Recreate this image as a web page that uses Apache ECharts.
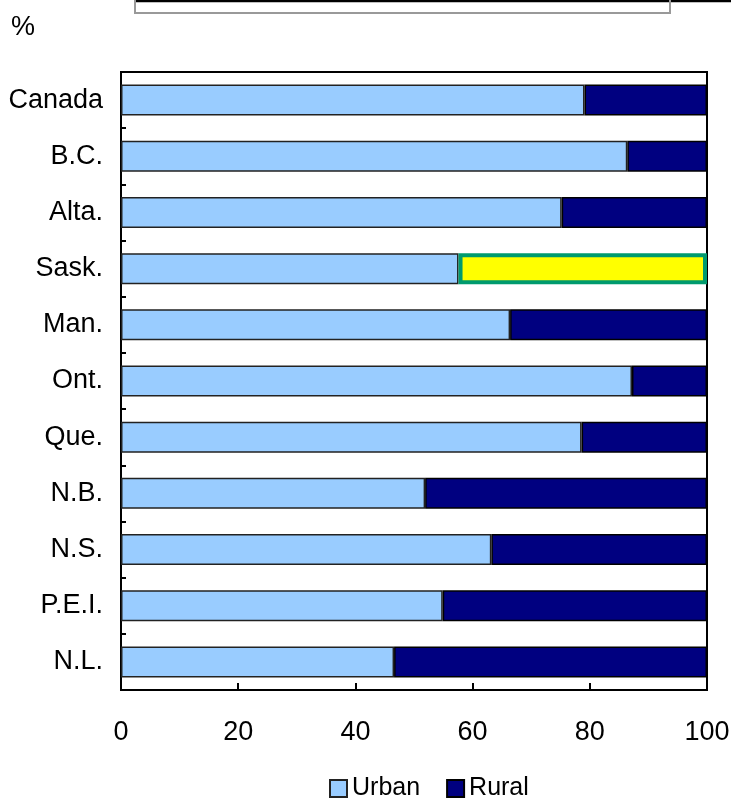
<!DOCTYPE html>
<html>
<head>
<meta charset="utf-8">
<script src="https://cdn.jsdelivr.net/npm/echarts@6/dist/echarts.min.js"></script>
<style>
  html, body { margin: 0; padding: 0; background: #fff; }
  #chart-container { width: 731px; height: 801px; }
</style>
</head>
<body>
<div id="chart-container"></div>
<script>
// Provinces, top to bottom as drawn
const regions = ['Canada', 'B.C.', 'Alta.', 'Sask.', 'Man.', 'Ont.', 'Que.', 'N.B.', 'N.S.', 'P.E.I.', 'N.L.'];
// Share of population (%)
const urban = [79.1, 86.4, 75.2, 57.6, 66.4, 87.2, 78.6, 51.9, 63.2, 54.9, 46.6];
const rural = [20.9, 13.6, 24.8, 42.4, 33.6, 12.8, 21.4, 48.1, 36.8, 45.1, 53.4];
const xTicks = [0, 20, 40, 60, 80, 100];
const highlighted = 'Sask.';

const font = '"Liberation Sans", Arial, sans-serif';

const chart = echarts.init(document.getElementById('chart-container'));

chart.setOption({
  animation: false,
  textStyle: { fontFamily: font },
  grid: {
    left: 121,
    right: 24,
    top: 72,
    bottom: 111,
    outerBoundsMode: 'none',
    show: true,
    borderColor: '#000',
    borderWidth: 2,
    backgroundColor: '#fff'
  },
  legend: {
    top: 771,
    left: 324,
    icon: 'rect',
    itemWidth: 17,
    itemHeight: 17,
    itemGap: 26,
    textStyle: { fontSize: 25, color: '#000', fontFamily: font },
    data: ['Urban', 'Rural']
  },
  xAxis: {
    type: 'value',
    min: xTicks[0],
    max: xTicks[xTicks.length - 1],
    interval: 20,
    axisLine: { show: true, lineStyle: { color: '#000', width: 2 } },
    axisTick: { show: true, inside: true, length: 7, lineStyle: { color: '#000', width: 2 } },
    axisLabel: { fontSize: 27, color: '#000', margin: 29 },
    splitLine: { show: false }
  },
  yAxis: {
    type: 'category',
    inverse: true,
    data: regions,
    axisLine: { show: true, lineStyle: { color: '#000', width: 2 } },
    axisTick: { show: true, inside: true, length: 5, lineStyle: { color: '#000', width: 2 } },
    axisLabel: { fontSize: 27, color: '#000', margin: 18 }
  },
  series: [
    {
      name: 'Urban',
      type: 'bar',
      stack: 'share',
      barWidth: 31,
      data: urban,
      itemStyle: { color: '#99ccff', borderColor: '#222', borderWidth: 1.5 }
    },
    {
      name: 'Rural',
      type: 'bar',
      stack: 'share',
      barWidth: 31,
      data: rural.map((v, i) => regions[i] === highlighted
        ? { value: v, itemStyle: { color: '#ffff00', borderColor: '#009a6e', borderWidth: 4 } }
        : v),
      itemStyle: { color: '#000080', borderColor: '#000', borderWidth: 1.5 }
    }
  ],
  graphic: [
    {
      type: 'text',
      left: 11,
      top: 14,
      style: { text: '%', fontSize: 27, fontFamily: font, fill: '#000' }
    },
    {
      type: 'line',
      shape: { x1: 134, y1: 1, x2: 731, y2: 1 },
      style: { stroke: '#000', lineWidth: 2.5 }
    },
    {
      type: 'polyline',
      shape: { points: [[135, 0], [135, 13], [670, 13], [670, 0]] },
      style: { stroke: '#999', lineWidth: 2, fill: null }
    }
  ]
});
</script>
</body>
</html>
